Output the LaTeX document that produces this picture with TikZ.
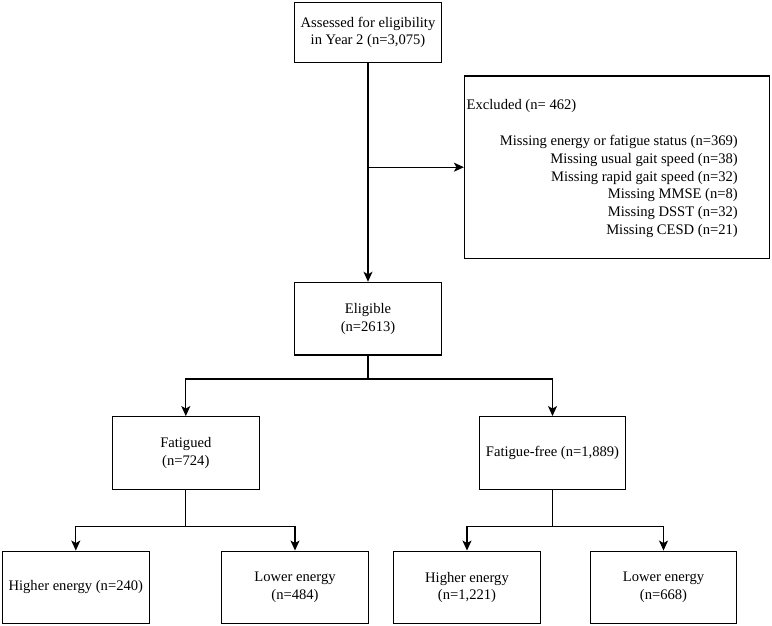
\documentclass[tikz,border=0pt]{standalone}
\usepackage{fontspec}
\setmainfont{Liberation Serif}
\usetikzlibrary{arrows.meta}
\newcommand{\fs}{\fontsize{14.6}{17.8}\selectfont}
\begin{document}
\begin{tikzpicture}[x=1pt,y=-1pt,
  box/.style={draw, line width=1.2pt, minimum width=146.6pt, minimum height=72.7pt, inner sep=0pt, align=center, font=\fs},
  ln/.style={line width=1.2pt},
  arr/.style={line width=1.2pt, -{Stealth[length=10pt,width=9pt,inset=2.5pt]}}]
\useasboundingbox (0,0) rectangle (772,626);
\fill[white] (0,0) rectangle (772,626);
\node[box, minimum height=60.4pt] (top) at (368,32.5) {Assessed for eligibility\\in Year 2 (n=3,075)};
\node[draw, line width=1.2pt, minimum width=305pt, minimum height=182.3pt, inner sep=0pt] (excl) at (617,167.2) {};
\node[anchor=base west, inner sep=0pt, font=\fs] (exclt) at (466.5,110) {Excluded (n= 462)};
\node[anchor=north east, inner sep=0pt, align=right, font=\fs] (exclr) at (738,135) {Missing energy or fatigue status (n=369)\\Missing usual gait speed (n=38)\\Missing rapid gait speed (n=32)\\Missing MMSE (n=8)\\Missing DSST (n=32)\\Missing CESD (n=21)};
\node[box] (elig) at (368,318.7) {Eligible\\(n=2613)};
\node[box] (fat) at (185.8,453) {Fatigued\\(n=724)};
\node[box] (free) at (552.5,453) {Fatigue-free (n=1,889)};
\node[box] (h1) at (75.8,587.5) {Higher energy (n=240)};
\node[box] (l1) at (295,587.5) {Lower energy\\(n=484)};
\node[box] (h2) at (467,587.5) {Higher energy\\(n=1,221)};
\node[box] (l2) at (663.5,587.5) {Lower energy\\(n=668)};
\coordinate (j1) at (368,167.2);
\coordinate (b1) at (368,379);
\coordinate (b2) at (185.8,526.5);
\coordinate (b3) at (552.5,526.5);
\draw[arr] (top) -- (elig);
\draw[arr] (j1) -- (excl.west);
\draw[ln] (elig) -- (b1);
\draw[arr] (b1) -| (fat);
\draw[arr] (b1) -| (free);
\draw[ln] (fat) -- (b2);
\draw[arr] (b2) -| (h1);
\draw[arr] (b2) -| (l1);
\draw[ln] (free) -- (b3);
\draw[arr] (b3) -| (h2);
\draw[arr] (b3) -| (l2);
\end{tikzpicture}
\end{document}
